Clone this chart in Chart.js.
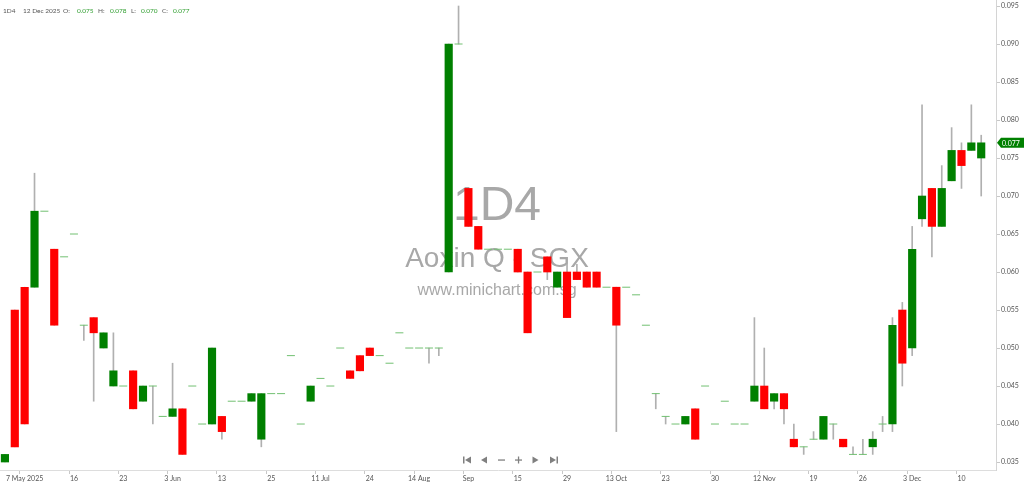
<!DOCTYPE html>
<html>
<head>
<meta charset="utf-8">
<script src="https://cdn.jsdelivr.net/npm/chart.js@4.4.1/dist/chart.umd.min.js"></script>
<style>
  html, body { margin: 0; padding: 0; background: #fff; }
  #wrap { width: 1024px; height: 484px; }
</style>
</head>
<body>
<div id="wrap"><canvas id="chart"></canvas></div>
<script>
// daily candles, 1D4 (Aoxin Q), May - Dec 2025
const opens = [
  0.035, 0.055, 0.058, 0.058, 0.068, 0.063, 0.062, 0.065, 0.053, 0.054,
  0.050, 0.045, 0.045, 0.047, 0.043, 0.045, 0.041, 0.041, 0.042, 0.045,
  0.040, 0.040, 0.041, 0.043, 0.043, 0.043, 0.038, 0.044, 0.044, 0.049,
  0.040, 0.043, 0.046, 0.045, 0.050, 0.047, 0.049, 0.050, 0.049, 0.048,
  0.052, 0.050, 0.050, 0.050, 0.050, 0.060, 0.090, 0.071, 0.066, 0.063,
  0.063, 0.063, 0.063, 0.060, 0.060, 0.062, 0.058, 0.060, 0.060, 0.060,
  0.060, 0.058, 0.058, 0.058, 0.057, 0.053, 0.044, 0.041, 0.040, 0.040,
  0.042, 0.045, 0.040, 0.043, 0.040, 0.040, 0.043, 0.045, 0.043, 0.044,
  0.038, 0.037, 0.038, 0.038, 0.040, 0.038, 0.036, 0.036, 0.037, 0.040,
  0.040, 0.055, 0.050, 0.067, 0.071, 0.066, 0.072, 0.076, 0.076, 0.075
];
const highs = [
  0.036, 0.055, 0.058, 0.073, 0.068, 0.063, 0.062, 0.065, 0.053, 0.054,
  0.052, 0.052, 0.045, 0.047, 0.045, 0.045, 0.041, 0.048, 0.042, 0.045,
  0.040, 0.050, 0.041, 0.043, 0.043, 0.044, 0.044, 0.044, 0.044, 0.049,
  0.040, 0.045, 0.046, 0.045, 0.050, 0.047, 0.049, 0.050, 0.049, 0.048,
  0.052, 0.050, 0.050, 0.050, 0.050, 0.090, 0.095, 0.071, 0.066, 0.063,
  0.063, 0.063, 0.063, 0.060, 0.060, 0.062, 0.060, 0.061, 0.061, 0.060,
  0.060, 0.058, 0.058, 0.058, 0.057, 0.053, 0.044, 0.041, 0.040, 0.041,
  0.042, 0.045, 0.040, 0.043, 0.040, 0.040, 0.054, 0.050, 0.044, 0.044,
  0.040, 0.037, 0.039, 0.041, 0.040, 0.038, 0.037, 0.038, 0.039, 0.041,
  0.054, 0.056, 0.066, 0.082, 0.071, 0.074, 0.079, 0.077, 0.082, 0.078
];
const lows = [
  0.035, 0.037, 0.040, 0.058, 0.068, 0.053, 0.062, 0.065, 0.051, 0.043,
  0.050, 0.045, 0.045, 0.042, 0.043, 0.040, 0.041, 0.041, 0.036, 0.045,
  0.040, 0.040, 0.038, 0.043, 0.043, 0.043, 0.037, 0.044, 0.044, 0.049,
  0.040, 0.043, 0.046, 0.045, 0.050, 0.046, 0.047, 0.049, 0.049, 0.048,
  0.052, 0.050, 0.050, 0.048, 0.049, 0.060, 0.090, 0.066, 0.063, 0.063,
  0.063, 0.063, 0.060, 0.052, 0.060, 0.059, 0.058, 0.054, 0.059, 0.058,
  0.058, 0.058, 0.039, 0.058, 0.057, 0.053, 0.042, 0.040, 0.040, 0.040,
  0.038, 0.045, 0.040, 0.043, 0.040, 0.040, 0.043, 0.042, 0.042, 0.040,
  0.037, 0.036, 0.038, 0.038, 0.038, 0.037, 0.036, 0.036, 0.036, 0.039,
  0.039, 0.045, 0.049, 0.066, 0.062, 0.066, 0.072, 0.071, 0.076, 0.070
];
const closes = [
  0.036, 0.037, 0.040, 0.068, 0.068, 0.053, 0.062, 0.065, 0.053, 0.052,
  0.052, 0.047, 0.045, 0.042, 0.045, 0.045, 0.041, 0.042, 0.036, 0.045,
  0.040, 0.050, 0.039, 0.043, 0.043, 0.044, 0.044, 0.044, 0.044, 0.049,
  0.040, 0.045, 0.046, 0.045, 0.050, 0.046, 0.047, 0.049, 0.049, 0.048,
  0.052, 0.050, 0.050, 0.050, 0.050, 0.090, 0.090, 0.066, 0.063, 0.063,
  0.063, 0.063, 0.060, 0.052, 0.060, 0.060, 0.060, 0.054, 0.059, 0.058,
  0.058, 0.058, 0.053, 0.058, 0.057, 0.053, 0.044, 0.041, 0.040, 0.041,
  0.038, 0.045, 0.040, 0.043, 0.040, 0.040, 0.045, 0.042, 0.044, 0.042,
  0.037, 0.037, 0.038, 0.041, 0.040, 0.037, 0.036, 0.036, 0.038, 0.040,
  0.053, 0.048, 0.063, 0.070, 0.066, 0.071, 0.076, 0.074, 0.077, 0.077
];

// x axis: which candle carries a date label
const tickIndex = [2, 7, 12, 17, 22, 27, 32, 37, 42, 47, 52, 57, 62, 67, 72, 77, 82, 87, 92, 97];
const tickLabels = ["7 May 2025", "16", "23", "3 Jun", "13", "25", "11 Jul", "24", "14 Aug", "Sep",
                    "15", "29", "13 Oct", "23", "30", "12 Nov", "19", "26", "3 Dec", "10"];
const priceTicks = [0.035, 0.040, 0.045, 0.050, 0.055, 0.060, 0.065, 0.070, 0.075, 0.080, 0.085, 0.090, 0.095];

const stockCode = "1D4";
const stockName = "Aoxin Q - SGX";
const siteName = "www.minichart.com.sg";
const lastDate = "12 Dec 2025";

const UP = "#008000";
const DOWN = "#ff0000";
const FONT = "Lato, 'Open Sans', sans-serif";

// one empty slot after the last candle
const labels = new Array(opens.length + 1).fill("");
tickIndex.forEach((idx, k) => { labels[idx] = tickLabels[k]; });

const bodies = opens.map((o, i) => (o === closes[i] ? null : [o, closes[i]]));
const bodyColors = opens.map((o, i) => (closes[i] >= o ? UP : DOWN));
const wicks = lows.map((l, i) => (l === highs[i] ? null : [l, highs[i]]));
const dojis = opens.map((o, i) => (o === closes[i] ? o : null));

const last = opens.length - 1;

const overlay = {
    id: "overlay",
    beforeDatasetsDraw(chart) {
        const { ctx, chartArea } = chart;
        const cx = (chartArea.left + chartArea.right) / 2 - 1;
        ctx.save();
        ctx.fillStyle = "#a8a8a8";
        ctx.textAlign = "center";
        ctx.textBaseline = "alphabetic";
        ctx.font = "48px 'Liberation Sans', Arial, sans-serif";
        ctx.fillText(stockCode, cx, 220);
        ctx.font = "28px 'Liberation Sans', Arial, sans-serif";
        ctx.fillText(stockName, cx, 267);
        ctx.font = "16px 'Liberation Sans', Arial, sans-serif";
        ctx.fillText(siteName, cx, 295);
        ctx.restore();
    },
    afterDraw(chart) {
        const { ctx, chartArea } = chart;
        ctx.save();

        // header line
        ctx.font = "6.5px " + FONT;
        ctx.textBaseline = "middle";
        const fmt = v => v.toFixed(3);
        const parts = [
            [stockCode, 3, "#555"], [lastDate, 23, "#555"],
            ["O:", 63, "#555"], [fmt(opens[last]), 77, "#2f9e2f"],
            ["H:", 98, "#555"], [fmt(highs[last]), 110, "#2f9e2f"],
            ["L:", 131, "#555"], [fmt(lows[last]), 141, "#2f9e2f"],
            ["C:", 162, "#555"], [fmt(closes[last]), 173, "#2f9e2f"]
        ];
        parts.forEach(([t, x, c]) => { ctx.fillStyle = c; ctx.fillText(t, x, 11); });

        // last price tag on the price axis
        const y = chart.scales.y.getPixelForValue(closes[last]);
        const x0 = chartArea.right + 1;
        ctx.font = "7px " + FONT;
        ctx.fillStyle = UP;
        ctx.beginPath();
        ctx.moveTo(x0, y);
        ctx.lineTo(x0 + 4, y - 5);
        ctx.lineTo(chart.width, y - 5);
        ctx.lineTo(chart.width, y + 5);
        ctx.lineTo(x0 + 4, y + 5);
        ctx.closePath();
        ctx.fill();
        ctx.fillStyle = "#fff";
        ctx.fillText(fmt(closes[last]), x0 + 5, y + 0.5);

        // navigation buttons
        ctx.fillStyle = "#808080";
        const ny = 460;
        const tri = (x, dir) => {
            ctx.beginPath();
            ctx.moveTo(x - 3 * dir, ny);
            ctx.lineTo(x + 3 * dir, ny - 3.5);
            ctx.lineTo(x + 3 * dir, ny + 3.5);
            ctx.closePath();
            ctx.fill();
        };
        ctx.fillRect(463, ny - 3.5, 1.5, 7); tri(468, 1);
        tri(484, 1);
        ctx.fillRect(498, ny - 0.6, 7, 1.3);
        ctx.fillRect(515, ny - 0.6, 7, 1.3); ctx.fillRect(517.9, ny - 3.5, 1.3, 7);
        tri(535.5, -1);
        tri(553, -1); ctx.fillRect(556.5, ny - 3.5, 1.5, 7);

        ctx.restore();
    }
};

const ctx = document.getElementById("chart").getContext("2d");
new Chart(ctx, {
    type: "bar",
    data: {
        labels: labels,
        datasets: [
            {
                label: "Doji",
                type: "line",
                data: dojis,
                showLine: false,
                pointStyle: "line",
                pointRadius: 4,
                pointHoverRadius: 4,
                pointBorderColor: "#72c072",
                pointBorderWidth: 1,
                order: 0
            },
            {
                label: "Body",
                data: bodies,
                backgroundColor: bodyColors,
                borderWidth: 0,
                barThickness: 7.5,
                grouped: false,
                order: 1
            },
            {
                label: "Wick",
                data: wicks,
                backgroundColor: "#b0b0b0",
                borderWidth: 0,
                barThickness: 1,
                grouped: false,
                order: 2
            }
        ]
    },
    options: {
        responsive: true,
        maintainAspectRatio: false,
        animation: false,
        layout: { padding: 0, autoPadding: false },
        plugins: {
            legend: { display: false },
            tooltip: { enabled: false }
        },
        scales: {
            x: {
                type: "category",
                offset: true,
                grid: {
                    drawOnChartArea: false,
                    tickLength: 4,
                    tickColor: c => (labels[c.index] ? "#c8c8c8" : "rgba(0,0,0,0)")
                },
                border: { color: "#dddddd" },
                ticks: {
                    autoSkip: false,
                    maxRotation: 0,
                    minRotation: 0,
                    padding: 1,
                    color: "#555",
                    font: { family: FONT, size: 7 },
                    callback: (v, i) => labels[i]
                },
                afterFit: s => { s.height = 14; s.paddingLeft = 0; s.paddingRight = 0; }
            },
            y: {
                position: "right",
                min: 0.03395,
                max: 0.09579,
                afterBuildTicks: s => { s.ticks = priceTicks.map(v => ({ value: v })); },
                grid: {
                    drawOnChartArea: false,
                    tickLength: 4,
                    tickColor: "#c8c8c8"
                },
                border: { color: "#d4d4d4" },
                ticks: {
                    padding: 1,
                    color: "#555",
                    font: { family: FONT, size: 7 },
                    callback: v => v.toFixed(3)
                },
                afterFit: s => { s.width = 28; s.paddingTop = 0; s.paddingBottom = 0; }
            }
        }
    },
    plugins: [overlay]
});
</script>
</body>
</html>
